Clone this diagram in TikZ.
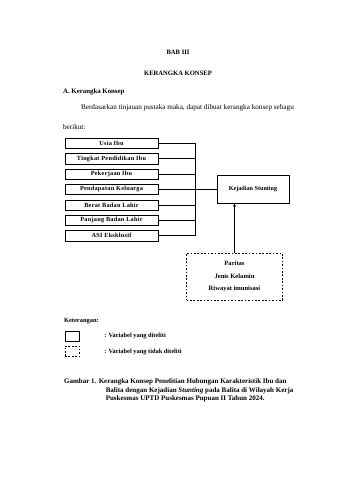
\documentclass[tikz,border=0pt]{standalone}
\usepackage{fontspec}
\setmainfont{Liberation Serif}
\usetikzlibrary{arrows.meta}
\begin{document}
\begin{tikzpicture}[x=1.755pt,y=-1.755pt,>=Stealth,
  varbox/.style={draw, thick, minimum width=163pt, minimum height=18pt, inner sep=0pt,
    font=\fontsize{11}{13}\selectfont\bfseries\addfontfeature{LetterSpace=4}},
  legendbox/.style={draw, thick, minimum width=25pt, minimum height=19pt, inner sep=0pt},
  bodytext/.style={anchor=west, inner sep=0pt, font=\fontsize{12.6}{16}\selectfont}]

  \useasboundingbox[fill=white] (0,0) rectangle (340,480);

  % Judul
  \node[font=\bfseries\fontsize{11.6}{14}\selectfont] (bab) at (178,52) {BAB III};
  \node[font=\bfseries\fontsize{11.6}{14}\selectfont] (judul) at (178,73) {KERANGKA KONSEP};
  \node[bodytext, font=\bfseries\fontsize{12}{14}\selectfont] (sub) at (63,92) {A. Kerangka Konsep};
  \node[bodytext] (par1) at (81,108) {Berdasarkan tinjauan pustaka maka, dapat dibuat kerangka konsep sebagu};
  \node[bodytext] (par2) at (63,127) {berikut:};

  % Variabel bebas
  \foreach \txt [count=\i] in {Usia Ibu, Tingkat Pendidikan Ibu, Pekerjaan Ibu,
      Pendapatan Keluarga, Berat Badan Lahir, Panjang Badan Lahir, ASI Eksklusif}
    \node[varbox] (v\i) at (111.5,{143.3+15.4*(\i-1)}) {\txt};

  % Variabel terikat
  \node[draw, thick, minimum width=127pt, minimum height=48.6pt, inner sep=0pt,
    font=\fontsize{10.8}{13}\selectfont\bfseries] (kej) at (253,189) {Kejadian Stunting};

  % Variabel tidak diteliti
  \node[draw, thick, dashed, minimum width=168pt, minimum height=82pt, inner sep=0pt,
    align=center, font=\fontsize{11.5}{22}\selectfont\bfseries] (luar) at (234.5,276.7)
    {Paritas\\Jenis Kelamin\\Riwayat imunisasi};

  % Garis penghubung
  \coordinate (J) at (195,189.3);
  \foreach \i in {1,...,7}
    \draw[thick] (v\i.east) -- (v\i.east -| J);
  \draw[thick] (v1.east -| J) -- (v7.east -| J);
  \draw[line width=1.6pt] (J) -- (J -| kej.west);
  \draw[->, thick] (luar.north) -- (luar.north |- kej.south);

  % Keterangan
  \node[bodytext, font=\fontsize{11.3}{14}\selectfont\bfseries] (ket) at (64,320.7) {Keterangan:};
  \node[legendbox] (lg1) at (72.2,336.2) {};
  \node[legendbox, dashed] (lg2) at (72.2,351.3) {};
  \node[bodytext, font=\fontsize{11.2}{14}\selectfont\bfseries] (lt1) at (104.3,336.2) {: Variabel yang diteliti};
  \node[bodytext, font=\fontsize{11.2}{14}\selectfont\bfseries] (lt2) at (104.3,352.3) {: Variabel yang tidak diteliti};

  % Keterangan gambar
  \node[bodytext, font=\fontsize{12.3}{16}\selectfont\bfseries] (cap1) at (64,382.3)
    {Gambar 1. Kerangka Konsep Penelitian Hubungan Karakteristik Ibu dan};
  \node[bodytext, font=\fontsize{12.3}{16}\selectfont\bfseries] (cap2) at (105.7,391)
    {Balita dengan Kejadian \textit{Stunting} pada Balita di Wilayah Kerja};
  \node[bodytext, font=\fontsize{12.3}{16}\selectfont\bfseries] (cap3) at (105.7,399.3)
    {Puskesmas UPTD Puskesmas Pupuan II Tahun 2024.};

\end{tikzpicture}
\end{document}
